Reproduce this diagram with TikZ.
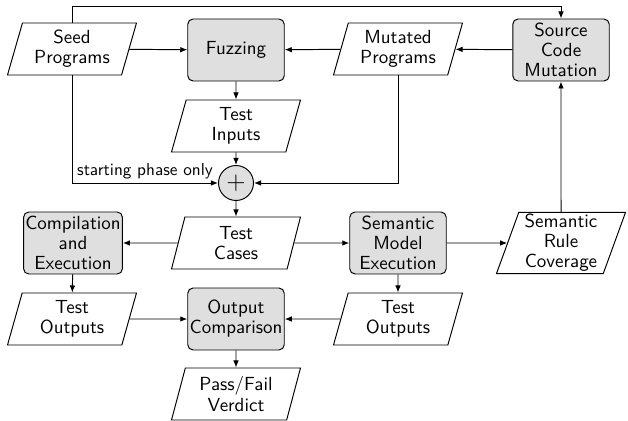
\documentclass[tikz,border=0pt]{standalone}
\usetikzlibrary{shapes.geometric,arrows.meta}
\tikzset{
  process/.style={draw, rounded corners=3pt, fill=gray!25, align=center,
    minimum width=1.93cm, minimum height=1.24cm, inner sep=1pt},
  data/.style={draw, trapezium, trapezium left angle=70, trapezium right angle=110,
    trapezium stretches body, align=center, minimum width=2.58cm,
    minimum height=1.04cm, inner sep=1pt},
  sum/.style={draw, circle, fill=gray!25, minimum size=0.7cm, inner sep=0pt},
  arr/.style={-{Latex[length=4pt,width=3.2pt]}}
}
\begin{document}
\begin{tikzpicture}[x=0.02cm, y=-0.02cm, line width=0.55pt,
    font=\sffamily\fontsize{10.8}{11.4}\selectfont]
  \useasboundingbox (0,0) rectangle (628,421);
  % fuzzing loop
  \node[data] (seed) at (72,49) {Seed\\Programs};
  \node[process] (fuzz) at (236,50) {Fuzzing};
  \node[data] (mut) at (398,49) {Mutated\\Programs};
  \node[process] (scm) at (561,50) {Source\\Code\\Mutation};
  \node[data] (tin) at (236,126) {Test\\Inputs};
  \node[sum] (plus) at (236,183) {\Large$+$};
  % execution
  \node[data] (tcase) at (236,243) {Test\\Cases};
  \node[process] (comp) at (73,243) {Compilation\\and\\Execution};
  \node[process] (sem) at (398,243) {Semantic\\Model\\Execution};
  \node[data] (cov) at (561,243) {Semantic\\Rule\\Coverage};
  \node[data] (outl) at (72,319) {Test\\Outputs};
  \node[process] (cmp) at (236,319) {Output\\Comparison};
  \node[data] (outr) at (398,319) {Test\\Outputs};
  \node[data] (verd) at (236,394) {Pass/Fail\\Verdict};

  \draw[arr] (seed) -- (fuzz);
  \draw[arr] (mut) -- (fuzz);
  \draw[arr] (scm) -- (mut);
  \draw[arr] (seed.north) -- ++(0,-16) -| (scm.north);
  \draw[arr] (fuzz) -- (tin);
  \draw[arr] (tin) -- (plus);
  \draw[arr] (seed.south) |- (plus.west)
    node[pos=0.75, above, inner sep=2pt, font=\sffamily\fontsize{9.8}{11}\selectfont]
    {starting phase only};
  \draw[arr] (mut.south) |- (plus.east);
  \draw[arr] (plus) -- (tcase);
  \draw[arr] (tcase) -- (comp);
  \draw[arr] (tcase) -- (sem);
  \draw[arr] (sem) -- (cov);
  \draw[arr] (cov) -- (scm);
  \draw[arr] (comp) -- (outl);
  \draw[arr] (sem) -- (outr);
  \draw[arr] (outl) -- (cmp);
  \draw[arr] (outr) -- (cmp);
  \draw[arr] (cmp) -- (verd);
\end{tikzpicture}
\end{document}
